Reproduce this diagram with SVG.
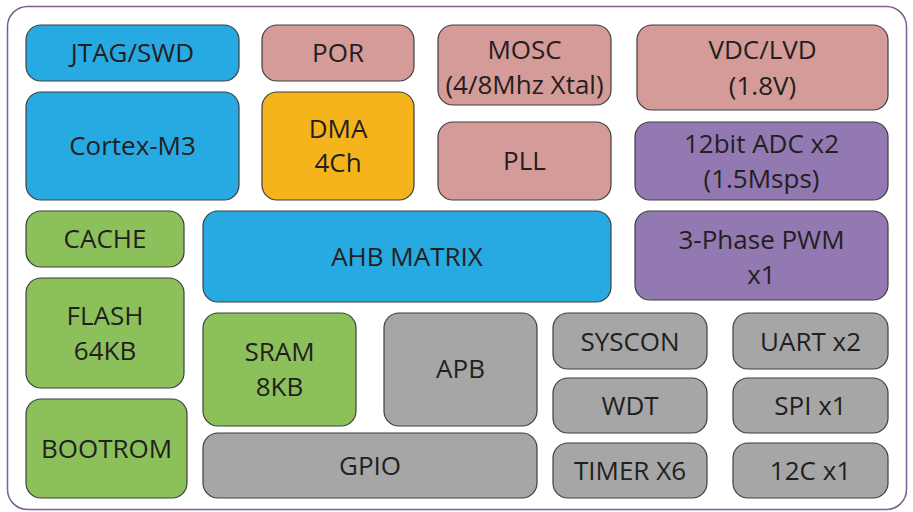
<svg xmlns="http://www.w3.org/2000/svg" width="913" height="512" viewBox="0 0 913 512">
<style>
rect.b{stroke:#3f3f3f;stroke-width:1.2}
.blue{fill:#27a9e1}.pink{fill:#d49b99}.orange{fill:#f5b41b}.green{fill:#8cc05b}.purple{fill:#9279b2}.gray{fill:#a6a6a6}
text{font-family:"Open Sans","Liberation Sans",sans-serif;font-size:26px;fill:#231f20;text-anchor:middle}
</style>
<rect x="0" y="0" width="913" height="512" fill="#fff"/>
<rect x="7.5" y="6.5" width="899" height="503" rx="20" fill="none" stroke="#7d5f90" stroke-width="1.5"/>
<g id="jtag"><rect class="b blue" x="26" y="25" width="213" height="56" rx="15"/><text x="132.5" y="62">JTAG/SWD</text></g>
<g id="cortex"><rect class="b blue" x="26" y="92" width="213" height="108" rx="15"/><text x="132.5" y="155">Cortex-M3</text></g>
<g id="por"><rect class="b pink" x="262" y="25" width="152" height="56" rx="15"/><text x="338" y="62">POR</text></g>
<g id="dma"><rect class="b orange" x="262" y="92" width="152" height="108" rx="15"/><text x="338" y="138">DMA</text><text x="338" y="172">4Ch</text></g>
<g id="mosc"><rect class="b pink" x="438" y="25" width="173" height="80" rx="15"/><text x="524.5" y="59">MOSC</text><text x="524.5" y="94">(4/8Mhz Xtal)</text></g>
<g id="pll"><rect class="b pink" x="438" y="122" width="173" height="78" rx="15"/><text x="524.5" y="170">PLL</text></g>
<g id="vdc"><rect class="b pink" x="637" y="25" width="251" height="85" rx="15"/><text x="762.5" y="59">VDC/LVD</text><text x="762.5" y="95">(1.8V)</text></g>
<g id="adc"><rect class="b purple" x="635" y="122" width="253" height="78" rx="15"/><text x="761.5" y="153">12bit ADC x2</text><text x="761.5" y="188">(1.5Msps)</text></g>
<g id="cache"><rect class="b green" x="26" y="211" width="158" height="56" rx="15"/><text x="105" y="248">CACHE</text></g>
<g id="ahb"><rect class="b blue" x="203" y="211" width="408" height="91" rx="15"/><text x="407" y="266">AHB MATRIX</text></g>
<g id="pwm"><rect class="b purple" x="635" y="211" width="253" height="89" rx="15"/><text x="761.5" y="249">3-Phase PWM</text><text x="761.5" y="284">x1</text></g>
<g id="flash"><rect class="b green" x="26" y="278" width="158" height="110" rx="15"/><text x="105" y="325">FLASH</text><text x="105" y="360">64KB</text></g>
<g id="bootrom"><rect class="b green" x="26" y="399" width="161" height="99" rx="15"/><text x="106.5" y="458">BOOTROM</text></g>
<g id="sram"><rect class="b green" x="203" y="313" width="153" height="113" rx="15"/><text x="279.5" y="361">SRAM</text><text x="279.5" y="396">8KB</text></g>
<g id="apb"><rect class="b gray" x="384" y="313" width="153" height="113" rx="15"/><text x="460.5" y="378">APB</text></g>
<g id="gpio"><rect class="b gray" x="203" y="433" width="334" height="65" rx="15"/><text x="370" y="475">GPIO</text></g>
<g id="syscon"><rect class="b gray" x="553" y="313" width="154" height="56" rx="15"/><text x="630" y="351">SYSCON</text></g>
<g id="wdt"><rect class="b gray" x="553" y="378" width="154" height="55" rx="15"/><text x="630" y="415">WDT</text></g>
<g id="timer"><rect class="b gray" x="553" y="443" width="154" height="55" rx="15"/><text x="630" y="480">TIMER X6</text></g>
<g id="uart"><rect class="b gray" x="733" y="313" width="155" height="56" rx="15"/><text x="810.5" y="351">UART x2</text></g>
<g id="spi"><rect class="b gray" x="733" y="378" width="155" height="55" rx="15"/><text x="810.5" y="415">SPI x1</text></g>
<g id="i2c"><rect class="b gray" x="733" y="443" width="155" height="55" rx="15"/><text x="810.5" y="480">12C x1</text></g>
<g id="connectors"></g>
</svg>
